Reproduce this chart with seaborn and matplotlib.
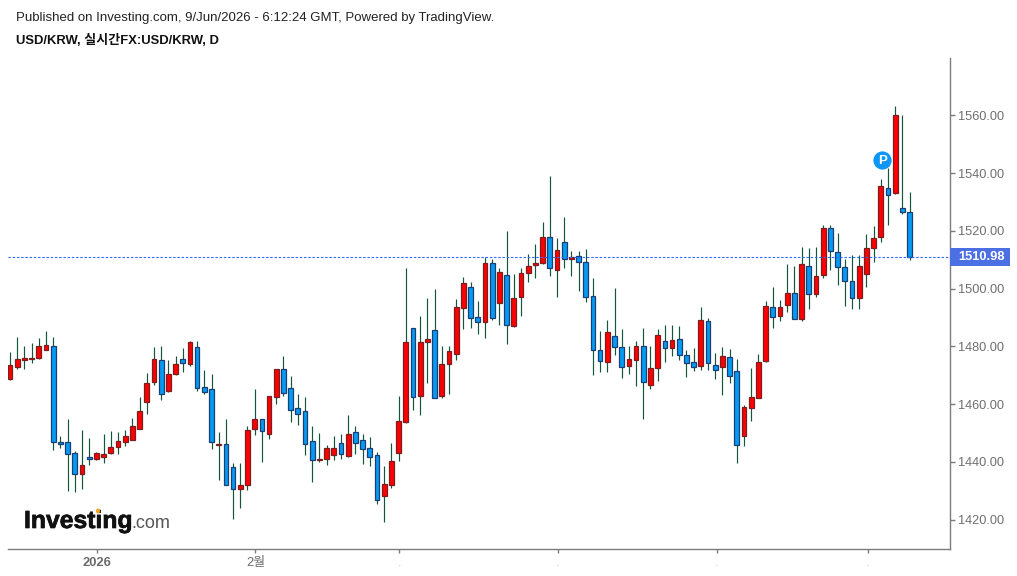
import matplotlib
matplotlib.use("Agg")
import matplotlib.pyplot as plt
from matplotlib.patches import Ellipse, Rectangle
import matplotlib.patheffects as pe
import numpy as np
import pandas as pd
import seaborn as sns

# Daily USD/KRW candles
opens = [1468.7,1473.0,1475.4,1475.8,1475.9,1478.8,1480.2,1446.9,1446.9,1443.2,1435.9,1441.6,1441.0,1441.7,1443.0,1445.1,1446.8,1447.6,1451.4,1460.9,1467.6,1475.2,1464.6,1470.5,1475.7,1473.8,1479.8,1466.1,1465.3,1445.9,1446.1,1438.2,1430.5,1431.9,1451.4,1454.8,1449.7,1462.6,1472.2,1465.5,1458.6,1457.7,1447.3,1440.6,1441.0,1442.5,1446.4,1442.2,1450.3,1447.7,1444.8,1442.3,1428.1,1432.2,1443.0,1453.8,1486.4,1463.0,1481.7,1485.6,1463.0,1473.8,1477.5,1493.3,1500.6,1490.1,1488.4,1508.8,1495.0,1504.8,1487.0,1497.0,1505.5,1508.2,1508.8,1517.9,1506.3,1516.0,1510.3,1511.2,1509.3,1497.6,1478.9,1474.6,1483.5,1479.7,1473.4,1475.4,1480.2,1466.7,1472.6,1481.9,1479.3,1482.6,1476.9,1474.7,1473.4,1488.8,1473.6,1472.9,1476.4,1471.4,1448.9,1458.8,1462.2,1475.1,1493.8,1490.5,1494.2,1498.4,1489.6,1508.0,1498.0,1504.7,1520.9,1512.6,1507.5,1502.6,1496.7,1505.1,1514.1,1517.9,1535.0,1533.2,1527.8,1526.7]
highs = [1478.1,1483.3,1480.2,1481.2,1482.8,1485.5,1483.3,1449.1,1455.0,1443.8,1451.2,1448.4,1443.4,1449.6,1450.8,1450.4,1451.2,1455.3,1462.5,1470.8,1479.9,1480.3,1475.4,1476.6,1479.5,1481.9,1482.0,1472.0,1470.5,1450.4,1455.0,1439.6,1439.6,1452.5,1465.3,1454.9,1462.7,1472.3,1476.6,1469.9,1463.7,1462.5,1452.6,1449.9,1445.8,1449.1,1449.7,1456.3,1452.6,1449.6,1448.8,1443.3,1438.7,1446.6,1462.9,1507.3,1486.4,1490.7,1496.9,1499.9,1480.3,1480.3,1496.5,1504.1,1502.4,1495.8,1511.0,1510.3,1507.2,1519.8,1505.2,1507.0,1511.9,1515.6,1523.1,1539.0,1517.4,1524.9,1513.2,1513.2,1513.6,1503.7,1485.4,1489.1,1500.3,1486.1,1480.3,1482.0,1486.5,1480.3,1486.1,1487.5,1487.5,1487.0,1478.7,1479.5,1493.7,1490.0,1477.8,1479.9,1479.1,1475.8,1459.8,1472.4,1477.4,1495.8,1500.7,1496.1,1508.7,1507.8,1514.5,1514.0,1514.5,1521.9,1521.9,1519.4,1510.3,1511.5,1511.5,1519.0,1521.6,1537.8,1541.9,1563.1,1560.2,1533.5]
lows = [1468.3,1472.2,1472.3,1474.1,1475.8,1478.7,1444.0,1444.9,1429.9,1429.6,1430.7,1439.1,1440.8,1439.5,1442.8,1442.9,1445.4,1447.5,1451.3,1456.6,1466.5,1461.6,1464.1,1470.2,1471.1,1473.1,1464.4,1463.7,1444.6,1433.6,1432.2,1420.3,1424.2,1430.4,1449.2,1440.0,1447.8,1460.0,1462.7,1453.7,1452.9,1442.5,1432.9,1440.0,1438.8,1440.8,1441.1,1441.7,1442.9,1439.4,1438.7,1425.3,1419.2,1430.9,1440.4,1453.5,1457.9,1456.2,1467.4,1462.2,1462.0,1463.7,1475.2,1486.1,1486.5,1484.4,1482.8,1489.1,1487.5,1480.8,1486.8,1490.5,1502.2,1503.6,1508.7,1504.3,1497.0,1507.3,1504.3,1499.3,1495.3,1470.0,1471.2,1471.2,1476.9,1469.1,1470.6,1466.4,1455.0,1465.3,1467.9,1474.5,1476.6,1475.2,1469.4,1471.5,1472.0,1472.0,1468.7,1463.3,1467.4,1439.5,1445.4,1454.1,1462.2,1474.7,1486.5,1488.7,1492.0,1489.5,1488.7,1492.9,1497.0,1503.6,1506.4,1501.1,1493.9,1493.1,1493.1,1500.6,1509.4,1516.0,1522.2,1532.7,1525.7,1509.9]
closes = [1473.6,1475.6,1476.1,1476.1,1480.2,1480.6,1446.8,1446.3,1442.6,1435.9,1438.9,1441.0,1443.1,1442.8,1445.3,1447.4,1449.0,1452.3,1457.8,1467.4,1475.7,1463.4,1470.6,1473.9,1474.2,1481.4,1465.5,1464.1,1446.8,1446.3,1432.2,1430.6,1432.0,1451.1,1454.8,1450.6,1462.7,1472.2,1463.8,1458.0,1456.7,1446.3,1440.7,1441.1,1444.8,1444.8,1442.6,1449.8,1446.4,1444.4,1441.8,1426.8,1432.4,1440.2,1454.1,1481.4,1462.5,1481.4,1482.7,1462.2,1473.9,1478.4,1493.5,1501.8,1490.0,1488.4,1508.8,1490.0,1505.8,1487.5,1496.8,1505.5,1508.0,1508.9,1517.9,1507.1,1513.4,1510.3,1511.1,1509.2,1497.0,1478.7,1475.1,1485.1,1479.7,1472.9,1475.6,1480.2,1467.6,1472.7,1483.9,1479.3,1482.3,1477.1,1474.2,1472.9,1489.0,1474.2,1471.7,1476.8,1469.7,1446.0,1459.0,1462.4,1474.7,1493.9,1490.1,1493.8,1498.4,1489.6,1508.5,1498.0,1504.3,1520.9,1512.9,1507.5,1502.6,1496.7,1508.0,1514.2,1517.6,1535.5,1532.4,1560.1,1526.5,1510.98]

last_price = closes[-1]
y_ticks = [1420, 1440, 1460, 1480, 1500, 1520, 1540, 1560]
x_tick_positions = [12.1, 34.1, 54.1, 76.1, 98.2, 119.2]
x_tick_labels = ["2026", "2월", ".", ".", ".", "."]

sns.set_theme(style="white")
plt.rcParams["font.family"] = ["Liberation Sans", "Noto Sans CJK KR", "DejaVu Sans"]

W, H = 1017, 576
fig = plt.figure(figsize=(W / 100, H / 100), dpi=100, facecolor="white")
ax = fig.add_axes([8 / W, 1 - 548.5 / H, 942 / W, 490.5 / H])

candles = pd.DataFrame({"i": np.arange(len(opens)), "open": opens, "high": highs,
                        "low": lows, "close": closes})
wicks = candles.melt(id_vars="i", value_vars=["high", "low"], value_name="price")

# Wicks: one vertical segment per session
sns.lineplot(data=wicks, x="i", y="price", units="i", estimator=None, sort=False,
             color="#14563a", linewidth=0.85, ax=ax, legend=False,
             solid_capstyle="butt")

# Bodies: red for sessions that closed higher, blue for lower
up = candles["close"] >= candles["open"]
body_bottom = candles[["open", "close"]].min(axis=1)
body_height = (candles["close"] - candles["open"]).abs()
ax.bar(candles["i"][up], body_height[up], bottom=body_bottom[up], width=0.66,
       color="#ff0000", edgecolor="#7a1f1f", linewidth=0.9, zorder=3)
ax.bar(candles["i"][~up], body_height[~up], bottom=body_bottom[~up], width=0.66,
       color="#059bf5", edgecolor="#1c3f73", linewidth=0.9, zorder=3)

ax.set_xlim(-0.28, 130.62)
ax.set_ylim(1410.05, 1579.85)

# Last price line and tag
ax.axhline(last_price, color="#2e6bff", linewidth=0.8, linestyle=(0, (2.2, 1.6)), zorder=4)
ax.add_patch(Rectangle((1.0, last_price - 3.05), 60 / 942, 6.1, transform=ax.get_yaxis_transform(),
                       facecolor="#4c6fe3", edgecolor="none", clip_on=False, zorder=6))
ax.text(1 + 8 / 942, last_price, f"{last_price:.2f}", transform=ax.get_yaxis_transform(),
        ha="left", va="center", color="white", fontsize=9.3, fontweight="bold", zorder=7,
        clip_on=False)

# Publication marker
ax.scatter([121.2], [1544.7], s=172, color="#0d96f5", zorder=7, linewidths=0)
ax.text(121.2, 1544.7, "P", color="white", fontsize=9.5, fontweight="bold",
        ha="center", va="center_baseline", zorder=8)

# Axes
sns.despine(ax=ax, top=True, left=True, right=False, bottom=False)
for side in ("right", "bottom"):
    ax.spines[side].set_color("#7c7c7c")
    ax.spines[side].set_linewidth(1.0)
ax.yaxis.tick_right()
ax.set_yticks(y_ticks)
ax.set_yticklabels([f"{v:.2f}" for v in y_ticks], color="#6e6e6e", fontsize=9.2)
ax.set_xticks(x_tick_positions)
ax.set_xticklabels(x_tick_labels, color="#6b6b6b", fontsize=9.3)
for label in ax.get_xticklabels():
    if label.get_text() == "2026":
        label.set_fontweight("bold")
    elif label.get_text() == ".":
        label.set_color("#c4c4c4")
ax.tick_params(axis="y", length=3.6, width=1, color="#7c7c7c", pad=2, left=False, right=True)
ax.tick_params(axis="x", length=3, width=1, color="#7c7c7c", pad=3, bottom=True)
ax.set_xlabel("")
ax.set_ylabel("")
ax.grid(False)

# Header lines
fig.text(16 / W, 1 - 17.5 / H, "Published on Investing.com, 9/Jun/2026 - 6:12:24 GMT, Powered by TradingView.",
         fontsize=9.58, color="#222222", va="center", ha="left")
fig.text(16 / W, 1 - 40 / H, "USD/KRW, 실시간FX:USD/KRW, D", fontsize=9.35, fontweight="bold",
         color="#111111", va="center", ha="left")

# Wordmark
fig.text(24 / W, 1 - 528 / H, "Investing", fontsize=17.8, fontweight="bold", color="#111111",
         va="baseline", ha="left", path_effects=[pe.withStroke(linewidth=0.5, foreground="#111111")])
fig.text(131 / W, 1 - 528 / H, ".com", fontsize=13, color="#555555", va="baseline", ha="left")
fig.add_artist(Ellipse((98 / W, 1 - 511 / H), 4 / W, 5 / H, transform=fig.transFigure,
                       facecolor="#f5a623", edgecolor="none", zorder=5))

fig.savefig("out.png", dpi=100, facecolor="white")
